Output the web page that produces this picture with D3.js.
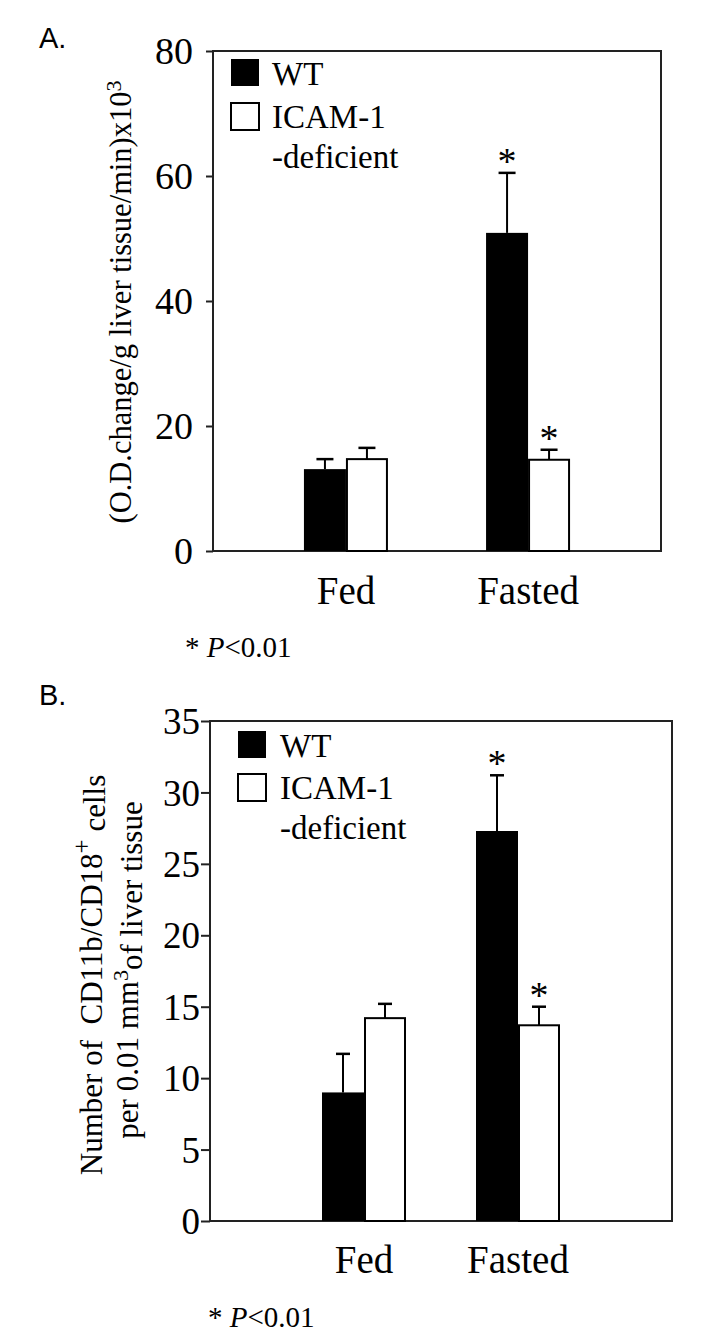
<!DOCTYPE html>
<html>
<head>
<meta charset="utf-8">
<script src="https://cdn.jsdelivr.net/npm/d3@7"></script>
<style>
html,body{margin:0;padding:0;background:#fff;}
svg{display:block;}
svg text{font-family:"Liberation Serif","Times New Roman",serif;fill:#000;white-space:pre;}
svg text.sans{font-family:"Liberation Sans",Arial,sans-serif;}
</style>
</head>
<body>
<svg id="chart" width="708" height="1337"></svg>
<script>
// ---- data ----
const categories = ["Fed", "Fasted"];
const seriesNames = ["WT", "ICAM-1 -deficient"];

const ticksA = [0, 20, 40, 60, 80];
const wtA = [13.1, 50.9];
const wtAErr = [1.6, 9.6];
const icamA = [14.7, 14.6];
const icamAErr = [1.8, 1.6];
const sigA_wt = [false, true];
const sigA_icam = [false, true];

const ticksB = [0, 5, 10, 15, 20, 25, 30, 35];
const wtB = [9.0, 27.3];
const wtBErr = [2.7, 3.9];
const icamB = [14.2, 13.7];
const icamBErr = [1.0, 1.3];
const sigB_wt = [false, true];
const sigB_icam = [false, true];

const pNote = "P<0.01";

// ---- drawing ----
const svg = d3.select("#chart");
const fills = ["#000", "#fff"];
const SERIF = "'Liberation Serif', 'Times New Roman', serif";

function panel(opt) {
  const g = svg.append("g");
  const x = d3.scalePoint().domain(categories).range([opt.x0, opt.x1]).padding(opt.pad);
  const y = d3.scaleLinear().domain([0, opt.max]).range([opt.yBottom, opt.yTop]);
  const inner = d3.scaleBand().domain(seriesNames).range([-opt.barW, opt.barW]);

  // frame
  g.append("rect").attr("x", opt.x0).attr("y", opt.yTop)
    .attr("width", opt.x1 - opt.x0).attr("height", opt.yBottom - opt.yTop)
    .attr("fill", "none").attr("stroke", "#222").attr("stroke-width", 2);

  // y axis
  const ax = g.append("g").attr("transform", `translate(${opt.x0},0)`)
    .call(d3.axisLeft(y).tickValues(opt.ticks).tickSize(opt.tickLen).tickPadding(opt.tickPad).tickFormat(d3.format("d")));
  ax.select(".domain").remove();
  ax.selectAll("line").attr("stroke", "#222").attr("stroke-width", 2);
  ax.selectAll("text").style("font-family", SERIF).attr("font-size", opt.tickFont).attr("dy", "0.34em");

  // x labels
  g.selectAll(".xl").data(categories).join("text")
    .style("font-family", SERIF)
    .attr("x", d => x(d)).attr("y", opt.xLabelY)
    .attr("text-anchor", "middle").attr("font-size", 39).text(d => d);

  const series = [
    {name: seriesNames[0], vals: opt.wt, err: opt.wtErr, sig: opt.sigWt},
    {name: seriesNames[1], vals: opt.icam, err: opt.icamErr, sig: opt.sigIcam}
  ];
  series.forEach((s, si) => {
    const data = categories.map((c, i) => ({c, v: s.vals[i], e: s.err[i], sig: s.sig[i]}));
    const bx = d => x(d.c) + inner(s.name);
    const bw = inner.bandwidth();
    // error bars (upward)
    g.selectAll(null).data(data).join("line")
      .attr("x1", d => bx(d) + bw / 2).attr("x2", d => bx(d) + bw / 2)
      .attr("y1", d => y(d.v)).attr("y2", d => y(d.v + d.e))
      .attr("stroke", "#000").attr("stroke-width", 2);
    g.selectAll(null).data(data).join("line")
      .attr("x1", d => bx(d) + bw / 2 - opt.cap / 2).attr("x2", d => bx(d) + bw / 2 + opt.cap / 2)
      .attr("y1", d => y(d.v + d.e)).attr("y2", d => y(d.v + d.e))
      .attr("stroke", "#000").attr("stroke-width", 2.5);
    // bars
    g.selectAll(null).data(data).join("rect")
      .attr("x", d => bx(d) + (si === 1 ? 1 : 0)).attr("width", bw - (si === 1 ? 2 : 0))
      .attr("y", d => y(d.v)).attr("height", d => y(0) - y(d.v))
      .attr("fill", fills[si]).attr("stroke", "#000").attr("stroke-width", si === 1 ? 2 : 0);
    // significance
    g.selectAll(null).data(data.filter(d => d.sig)).join("text")
      .style("font-family", SERIF)
      .attr("x", d => bx(d) + bw / 2).attr("y", d => y(d.v + d.e) + 1)
      .attr("text-anchor", "middle").attr("font-size", 38).text("*");
  });

  // legend
  const lg = g.append("g");
  seriesNames.forEach((n, i) => {
    lg.append("rect").attr("x", opt.legX).attr("y", opt.legY + i * opt.legStep)
      .attr("width", 28).attr("height", 27)
      .attr("fill", fills[i]).attr("stroke", "#000").attr("stroke-width", i === 1 ? 2 : 0);
  });
  const lt = (t, yy) => lg.append("text").style("font-family", SERIF)
    .attr("x", opt.legTX).attr("y", yy).attr("font-size", 33).text(t);
  lt("WT", opt.legY + 26);
  lt("ICAM-1", opt.legY + opt.legStep + 25);
  lt("-deficient", opt.legY + opt.legStep + 65);

  // panel letter
  g.append("text").attr("class", "sans").attr("x", 39).attr("y", opt.letterY)
    .style("font-family", "'Liberation Sans', Arial, sans-serif")
    .attr("font-size", 29).text(opt.letter);

  // p note
  const pn = g.append("text").style("font-family", SERIF).attr("x", opt.pX).attr("y", opt.pY).attr("font-size", 29);
  pn.append("tspan").text("* ");
  pn.append("tspan").attr("font-style", "italic").text("P");
  pn.append("tspan").text(pNote.slice(1));
  return g;
}

const gA = panel({
  x0: 213, x1: 661, pad: 0.73, yTop: 51, yBottom: 551, max: 80, ticks: ticksA,
  tickLen: 7, tickPad: 13, tickFont: 38, barW: 42, cap: 17,
  wt: wtA, wtErr: wtAErr, icam: icamA, icamErr: icamAErr, sigWt: sigA_wt, sigIcam: sigA_icam,
  xLabelY: 604, legX: 231, legY: 59, legStep: 44, legTX: 272,
  letter: "A.", letterY: 48, pX: 185, pY: 657
});
// A y title
const tA = gA.append("text").style("font-family", SERIF)
  .attr("transform", "translate(131,302) rotate(-90)")
  .attr("text-anchor", "middle").attr("font-size", 30.5);
tA.append("tspan").text("(O.D.change/g liver tissue/min)x10");
tA.append("tspan").attr("dy", "-0.45em").attr("font-size", 22).text("3");

const gB = panel({
  x0: 210, x1: 672, pad: 1.0, yTop: 721, yBottom: 1221, max: 35, ticks: ticksB,
  tickLen: 9, tickPad: 1, tickFont: 37, barW: 42, cap: 14,
  wt: wtB, wtErr: wtBErr, icam: icamB, icamErr: icamBErr, sigWt: sigB_wt, sigIcam: sigB_icam,
  xLabelY: 1273, legX: 238, legY: 731, legStep: 43, legTX: 280,
  letter: "B.", letterY: 705, pX: 208, pY: 1327
});
const tB1 = gB.append("text").style("font-family", SERIF)
  .attr("transform", "translate(102,975) rotate(-90)")
  .attr("text-anchor", "middle").attr("font-size", 31);
tB1.append("tspan").text("Number of\u00a0 CD11b/CD18");
tB1.append("tspan").attr("dy", "-0.5em").attr("font-size", 25).text("+");
tB1.append("tspan").attr("dy", "0.5em").text(" cells");
const tB2 = gB.append("text").style("font-family", SERIF)
  .attr("transform", "translate(138,970) rotate(-90)")
  .attr("text-anchor", "middle").attr("font-size", 31);
tB2.append("tspan").text("per 0.01 mm");
tB2.append("tspan").attr("dy", "-0.45em").attr("font-size", 22).text("3");
tB2.append("tspan").attr("dy", "0.45em").text("of liver tissue");
</script>
</body>
</html>
